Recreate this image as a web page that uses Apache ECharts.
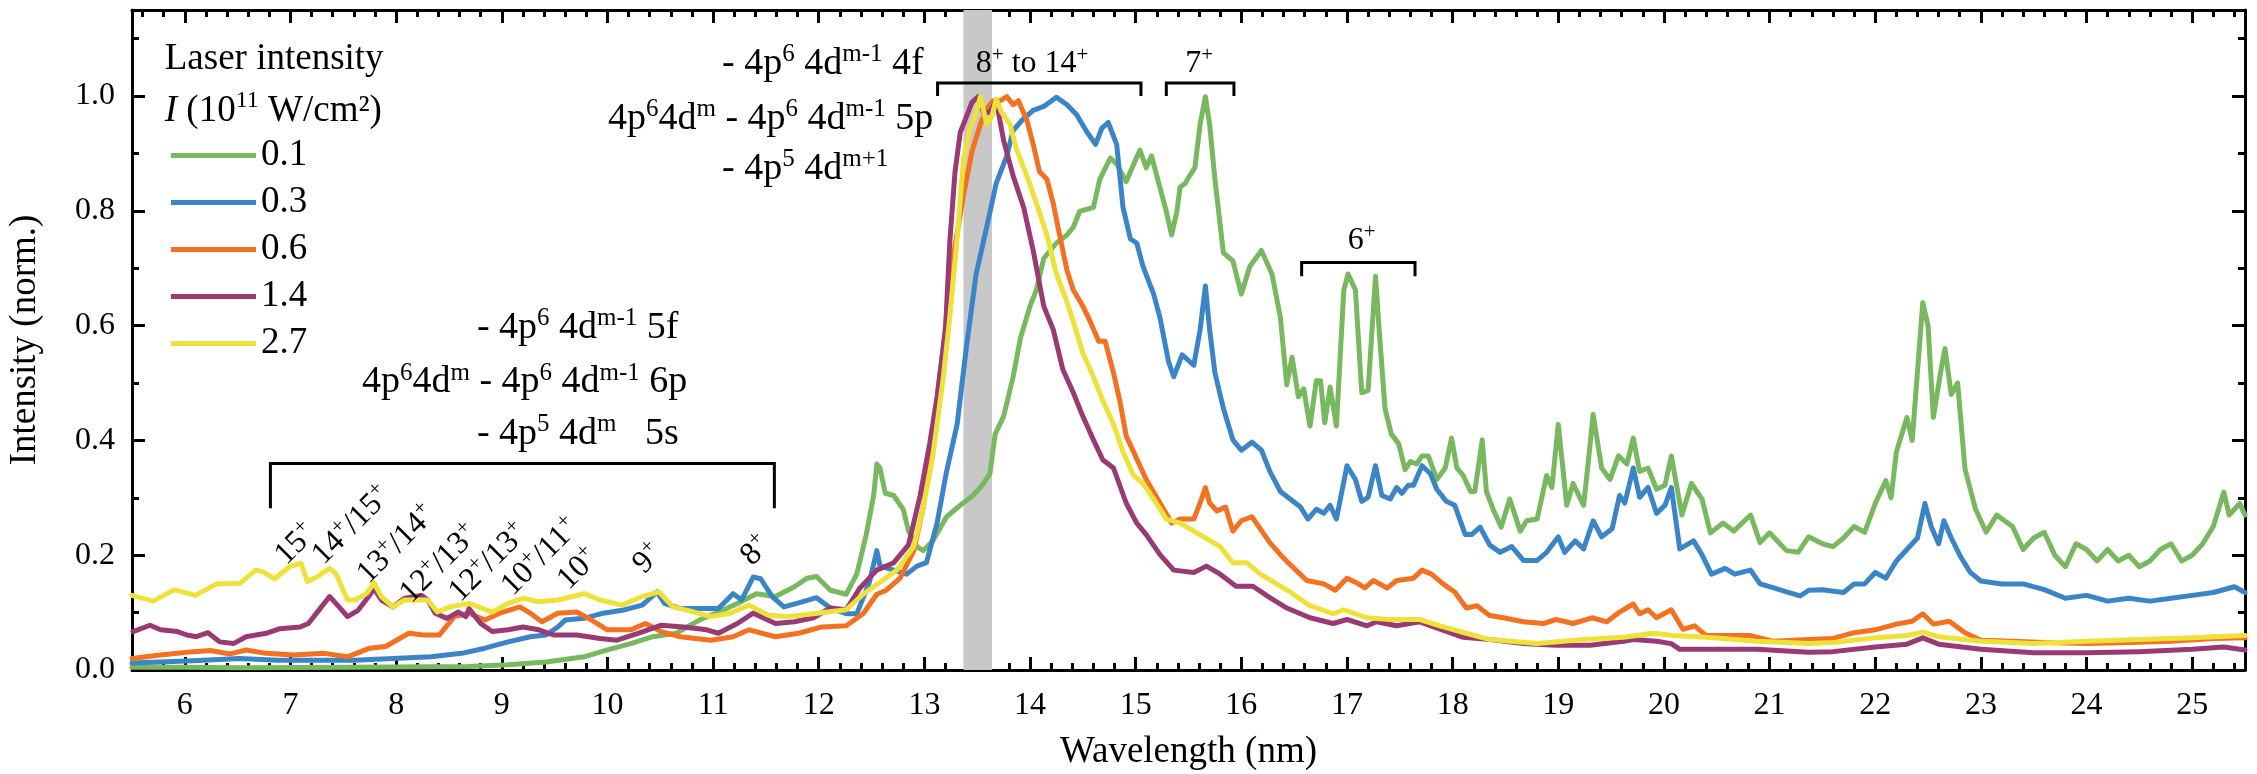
<!DOCTYPE html>
<html>
<head>
<meta charset="utf-8">
<script src="https://cdn.jsdelivr.net/npm/echarts@6/dist/echarts.min.js"></script>
<style>
html, body { margin: 0; padding: 0; background: #fff; }
#chart { width: 2257px; height: 774px; }
</style>
</head>
<body>
<div id="chart"></div>
<script>
// Normalised EUV emission spectra for five laser intensities
const FONT = "'Liberation Serif', serif";

const seriesNames = ['0.1', '0.3', '0.6', '1.4', '2.7'];
const seriesColors = ['#78b85f', '#3a84c8', '#f37121', '#9a3a74', '#eee23a'];

// [wavelength (nm), normalised intensity]
const int01 = [
  [5.5,0.005],[6.0,0.005],[6.52,0.004],[7.61,0.005],[8.69,0.006],[9.06,0.009],[9.42,0.014],[9.78,0.023],
  [10.0,0.035],[10.22,0.046],[10.43,0.058],[10.65,0.064],[10.87,0.087],[11.09,0.104],[11.23,0.116],[11.41,0.133],
  [11.59,0.128],[11.77,0.145],[11.89,0.160],[11.98,0.163],[12.11,0.139],[12.26,0.132],[12.36,0.167],[12.45,0.236],
  [12.52,0.304],[12.55,0.359],[12.58,0.352],[12.63,0.308],[12.71,0.304],[12.80,0.280],[12.85,0.242],[12.93,0.215],
  [12.99,0.208],[13.08,0.225],[13.21,0.267],[13.34,0.287],[13.46,0.304],[13.56,0.325],[13.62,0.342],[13.67,0.411],
  [13.75,0.442],[13.84,0.511],[13.91,0.579],[14.00,0.634],[14.06,0.662],[14.13,0.717],[14.25,0.744],[14.35,0.758],
  [14.41,0.772],[14.47,0.799],[14.60,0.806],[14.66,0.855],[14.76,0.892],[14.82,0.882],[14.91,0.851],[15.04,0.906],
  [15.10,0.875],[15.15,0.896],[15.20,0.861],[15.29,0.799],[15.34,0.758],[15.39,0.799],[15.42,0.841],[15.47,0.848],
  [15.51,0.861],[15.56,0.875],[15.61,0.951],[15.66,0.999],[15.70,0.951],[15.75,0.855],[15.83,0.727],[15.92,0.713],
  [16.00,0.655],[16.08,0.703],[16.19,0.731],[16.29,0.690],[16.37,0.614],[16.43,0.497],[16.48,0.545],[16.54,0.476],
  [16.59,0.490],[16.65,0.425],[16.71,0.504],[16.75,0.504],[16.79,0.431],[16.84,0.493],[16.90,0.425],[16.97,0.662],
  [17.01,0.690],[17.08,0.662],[17.14,0.483],[17.20,0.487],[17.27,0.686],[17.31,0.579],[17.36,0.456],[17.42,0.411],
  [17.49,0.394],[17.55,0.349],[17.60,0.363],[17.66,0.359],[17.71,0.373],[17.77,0.373],[17.85,0.332],[17.93,0.352],
  [17.99,0.404],[18.04,0.352],[18.10,0.339],[18.17,0.311],[18.21,0.311],[18.28,0.401],[18.32,0.311],[18.39,0.277],
  [18.46,0.249],[18.54,0.298],[18.64,0.242],[18.70,0.260],[18.80,0.263],[18.89,0.339],[18.94,0.318],[19.00,0.428],
  [19.08,0.287],[19.14,0.325],[19.24,0.287],[19.29,0.373],[19.33,0.445],[19.41,0.352],[19.49,0.332],[19.57,0.373],
  [19.65,0.359],[19.71,0.404],[19.77,0.346],[19.85,0.352],[19.93,0.315],[20.01,0.322],[20.07,0.373],[20.17,0.270],
  [20.26,0.325],[20.36,0.298],[20.44,0.239],[20.56,0.256],[20.66,0.242],[20.82,0.270],[20.91,0.222],[21.00,0.239],
  [21.16,0.208],[21.27,0.205],[21.37,0.232],[21.5,0.22],[21.6,0.215],[21.7,0.23],[21.8,0.25],[21.9,0.24],
  [22.0,0.29],[22.1,0.33],[22.15,0.30],[22.2,0.38],[22.3,0.44],[22.35,0.40],[22.45,0.64],[22.5,0.60],
  [22.55,0.44],[22.62,0.52],[22.66,0.56],[22.72,0.48],[22.78,0.50],[22.85,0.35],[22.95,0.28],[23.05,0.24],
  [23.15,0.27],[23.3,0.25],[23.4,0.21],[23.5,0.23],[23.6,0.24],[23.7,0.20],[23.8,0.18],[23.9,0.22],
  [24.0,0.21],[24.1,0.19],[24.2,0.21],[24.3,0.19],[24.4,0.20],[24.5,0.18],[24.6,0.19],[24.7,0.21],
  [24.8,0.22],[24.9,0.19],[25.0,0.20],[25.1,0.22],[25.2,0.25],[25.3,0.31],[25.35,0.27],[25.45,0.29],[25.5,0.27]
];

const int03 = [
  [5.5,0.012],[6.08,0.016],[6.52,0.020],[6.88,0.017],[7.25,0.017],[7.61,0.017],[7.97,0.020],[8.33,0.023],
  [8.62,0.029],[8.84,0.038],[9.06,0.049],[9.27,0.058],[9.42,0.061],[9.53,0.075],[9.60,0.087],[9.78,0.090],
  [9.96,0.099],[10.14,0.104],[10.33,0.113],[10.47,0.136],[10.54,0.116],[10.69,0.107],[11.05,0.107],[11.19,0.133],
  [11.27,0.122],[11.38,0.162],[11.45,0.159],[11.56,0.128],[11.67,0.110],[11.81,0.117],[11.98,0.126],[12.11,0.108],
  [12.26,0.098],[12.36,0.098],[12.48,0.153],[12.55,0.208],[12.58,0.181],[12.71,0.174],[12.83,0.167],[12.93,0.181],
  [13.02,0.187],[13.12,0.256],[13.21,0.346],[13.31,0.428],[13.40,0.566],[13.49,0.690],[13.59,0.772],[13.68,0.848],
  [13.78,0.896],[13.84,0.940],[13.94,0.961],[14.03,0.975],[14.13,0.982],[14.25,0.998],[14.35,0.985],[14.44,0.968],
  [14.54,0.937],[14.62,0.916],[14.68,0.944],[14.74,0.954],[14.82,0.916],[14.88,0.806],[14.95,0.751],[15.01,0.744],
  [15.07,0.703],[15.17,0.655],[15.23,0.614],[15.31,0.538],[15.36,0.511],[15.44,0.549],[15.55,0.531],[15.61,0.593],
  [15.66,0.669],[15.70,0.593],[15.75,0.518],[15.83,0.456],[15.92,0.401],[16.00,0.383],[16.10,0.397],[16.19,0.383],
  [16.27,0.346],[16.37,0.311],[16.44,0.301],[16.56,0.284],[16.63,0.263],[16.71,0.280],[16.78,0.273],[16.84,0.287],
  [16.90,0.263],[17.00,0.356],[17.08,0.332],[17.14,0.294],[17.20,0.301],[17.27,0.356],[17.33,0.304],[17.41,0.298],
  [17.47,0.318],[17.52,0.308],[17.58,0.322],[17.63,0.322],[17.71,0.356],[17.79,0.342],[17.85,0.315],[17.94,0.294],
  [18.02,0.287],[18.12,0.236],[18.18,0.236],[18.26,0.249],[18.35,0.218],[18.45,0.205],[18.56,0.215],[18.67,0.191],
  [18.80,0.191],[18.89,0.205],[19.00,0.232],[19.06,0.205],[19.16,0.225],[19.24,0.211],[19.33,0.260],[19.41,0.232],
  [19.51,0.246],[19.58,0.304],[19.63,0.291],[19.71,0.352],[19.77,0.301],[19.85,0.318],[19.93,0.273],[20.01,0.287],
  [20.07,0.318],[20.15,0.211],[20.28,0.225],[20.36,0.201],[20.45,0.167],[20.58,0.177],[20.67,0.167],[20.82,0.174],
  [20.91,0.150],[21.04,0.143],[21.16,0.136],[21.29,0.129],[21.37,0.139],[21.5,0.14],[21.7,0.135],[21.8,0.15],
  [21.9,0.15],[22.0,0.17],[22.1,0.16],[22.2,0.19],[22.3,0.21],[22.4,0.23],[22.47,0.29],[22.53,0.25],
  [22.6,0.22],[22.65,0.26],[22.72,0.23],[22.8,0.20],[22.9,0.17],[23.0,0.155],[23.2,0.15],[23.4,0.15],
  [23.6,0.14],[23.8,0.125],[24.0,0.13],[24.2,0.12],[24.4,0.125],[24.6,0.12],[24.8,0.125],[25.0,0.13],
  [25.2,0.135],[25.4,0.145],[25.5,0.135]
];

const int06 = [
  [5.5,0.020],[5.77,0.026],[6.08,0.032],[6.24,0.034],[6.43,0.028],[6.58,0.035],[6.77,0.029],[7.03,0.026],
  [7.32,0.029],[7.54,0.023],[7.75,0.038],[7.90,0.041],[8.12,0.064],[8.26,0.061],[8.41,0.061],[8.55,0.093],
  [8.62,0.096],[8.69,0.099],[8.84,0.087],[8.98,0.099],[9.17,0.110],[9.27,0.099],[9.38,0.084],[9.53,0.099],
  [9.71,0.101],[9.85,0.087],[10.00,0.070],[10.22,0.070],[10.36,0.081],[10.51,0.067],[10.69,0.058],[10.98,0.052],
  [11.19,0.058],[11.34,0.070],[11.59,0.058],[11.81,0.064],[12.03,0.075],[12.26,0.077],[12.42,0.098],[12.55,0.132],
  [12.64,0.139],[12.77,0.160],[12.90,0.208],[12.99,0.284],[13.08,0.408],[13.18,0.566],[13.27,0.717],[13.37,0.827],
  [13.45,0.903],[13.53,0.951],[13.59,0.978],[13.65,0.992],[13.72,0.992],[13.78,0.999],[13.84,0.985],[13.89,0.992],
  [13.97,0.958],[14.03,0.916],[14.09,0.868],[14.16,0.855],[14.22,0.813],[14.28,0.758],[14.35,0.696],[14.41,0.662],
  [14.50,0.634],[14.57,0.607],[14.65,0.573],[14.71,0.573],[14.79,0.518],[14.85,0.469],[14.91,0.408],[14.98,0.380],
  [15.10,0.332],[15.23,0.291],[15.34,0.256],[15.42,0.263],[15.55,0.263],[15.61,0.291],[15.66,0.318],[15.70,0.291],
  [15.77,0.277],[15.85,0.284],[15.92,0.242],[16.00,0.260],[16.10,0.267],[16.18,0.246],[16.27,0.222],[16.37,0.201],
  [16.46,0.184],[16.62,0.156],[16.78,0.150],[16.89,0.139],[17.00,0.160],[17.08,0.153],[17.17,0.143],[17.25,0.156],
  [17.38,0.143],[17.47,0.156],[17.63,0.160],[17.71,0.174],[17.80,0.167],[17.91,0.150],[18.02,0.136],[18.13,0.108],
  [18.23,0.112],[18.35,0.095],[18.48,0.091],[18.67,0.084],[18.86,0.081],[18.98,0.088],[19.14,0.081],[19.32,0.091],
  [19.46,0.084],[19.58,0.101],[19.71,0.115],[19.77,0.098],[19.85,0.105],[19.93,0.091],[20.07,0.105],[20.18,0.071],
  [20.29,0.077],[20.40,0.060],[20.56,0.060],[20.82,0.060],[21.04,0.050],[21.37,0.053],[21.6,0.055],[21.8,0.065],
  [22.0,0.070],[22.2,0.080],[22.35,0.085],[22.45,0.098],[22.55,0.080],[22.7,0.085],[22.85,0.065],[23.0,0.052],
  [23.3,0.050],[23.6,0.048],[24.0,0.046],[24.4,0.048],[24.8,0.050],[25.2,0.055],[25.5,0.056]
];

const int14 = [
  [5.51,0.067],[5.67,0.078],[5.77,0.070],[5.93,0.067],[6.02,0.061],[6.11,0.058],[6.22,0.065],[6.33,0.049],
  [6.46,0.046],[6.58,0.058],[6.77,0.064],[6.90,0.072],[7.09,0.075],[7.17,0.081],[7.28,0.107],[7.37,0.128],
  [7.46,0.110],[7.54,0.093],[7.64,0.104],[7.74,0.128],[7.79,0.142],[7.86,0.122],[7.97,0.110],[8.08,0.125],
  [8.24,0.130],[8.30,0.122],[8.37,0.099],[8.48,0.090],[8.59,0.101],[8.66,0.093],[8.69,0.107],[8.80,0.081],
  [8.91,0.067],[9.06,0.070],[9.20,0.075],[9.35,0.070],[9.49,0.061],[9.71,0.061],[9.93,0.055],[10.09,0.052],
  [10.29,0.064],[10.51,0.078],[10.72,0.075],[10.94,0.070],[11.05,0.064],[11.23,0.081],[11.38,0.099],[11.59,0.081],
  [11.77,0.084],[11.95,0.091],[12.11,0.108],[12.26,0.105],[12.39,0.143],[12.55,0.174],[12.71,0.187],[12.85,0.218],
  [12.96,0.304],[13.05,0.394],[13.12,0.476],[13.20,0.593],[13.24,0.744],[13.29,0.868],[13.34,0.937],[13.40,0.965],
  [13.45,0.989],[13.51,0.999],[13.56,0.972],[13.62,0.972],[13.68,0.992],[13.75,0.923],[13.84,0.861],[13.94,0.806],
  [14.03,0.731],[14.13,0.634],[14.22,0.593],[14.31,0.524],[14.41,0.483],[14.50,0.442],[14.60,0.401],[14.69,0.366],
  [14.79,0.352],[14.91,0.291],[15.01,0.256],[15.10,0.236],[15.23,0.201],[15.36,0.174],[15.55,0.170],[15.67,0.181],
  [15.80,0.167],[15.95,0.146],[16.11,0.146],[16.27,0.126],[16.43,0.108],[16.65,0.091],[16.87,0.081],[17.00,0.088],
  [17.19,0.077],[17.28,0.084],[17.47,0.077],[17.69,0.084],[17.88,0.071],[18.10,0.057],[18.35,0.053],[18.67,0.046],
  [18.98,0.043],[19.30,0.043],[19.62,0.050],[19.71,0.053],[19.93,0.050],[20.07,0.046],[20.15,0.036],[20.40,0.036],
  [20.88,0.036],[21.37,0.031],[21.6,0.032],[22.0,0.040],[22.3,0.045],[22.45,0.056],[22.6,0.045],[23.0,0.036],
  [23.5,0.030],[24.0,0.030],[24.5,0.032],[25.0,0.036],[25.3,0.040],[25.5,0.035]
];

const int27 = [
  [5.5,0.13],[5.7,0.12],[5.9,0.14],[6.1,0.13],[6.3,0.15],[6.52,0.151],[6.67,0.174],[6.74,0.171],
  [6.85,0.159],[6.99,0.180],[7.10,0.186],[7.16,0.154],[7.25,0.162],[7.37,0.177],[7.43,0.168],[7.54,0.122],
  [7.61,0.122],[7.72,0.133],[7.79,0.152],[7.86,0.128],[7.97,0.110],[8.08,0.122],[8.30,0.122],[8.39,0.101],
  [8.51,0.110],[8.69,0.116],[8.91,0.101],[9.06,0.116],[9.20,0.125],[9.35,0.119],[9.53,0.122],[9.67,0.128],
  [9.78,0.133],[9.93,0.122],[10.14,0.113],[10.33,0.128],[10.49,0.136],[10.62,0.110],[10.76,0.104],[10.98,0.093],
  [11.16,0.099],[11.34,0.113],[11.52,0.096],[11.70,0.093],[11.95,0.098],[12.26,0.105],[12.42,0.132],[12.58,0.153],
  [12.74,0.174],[12.90,0.215],[12.99,0.284],[13.08,0.373],[13.18,0.511],[13.24,0.614],[13.31,0.751],[13.37,0.889],
  [13.43,0.944],[13.48,0.965],[13.53,0.999],[13.59,0.951],[13.64,0.965],[13.68,0.995],[13.73,0.972],[13.81,0.951],
  [13.87,0.909],[13.97,0.861],[14.06,0.813],[14.16,0.758],[14.25,0.690],[14.35,0.641],[14.41,0.607],[14.50,0.552],
  [14.60,0.511],[14.69,0.469],[14.79,0.428],[14.88,0.380],[14.98,0.339],[15.07,0.325],[15.17,0.298],[15.29,0.263],
  [15.42,0.256],[15.55,0.242],[15.67,0.229],[15.80,0.215],[15.92,0.187],[16.05,0.187],[16.18,0.167],[16.37,0.146],
  [16.46,0.136],[16.65,0.112],[16.87,0.098],[16.97,0.105],[17.19,0.091],[17.41,0.088],[17.69,0.088],[17.88,0.077],
  [18.13,0.064],[18.35,0.053],[18.80,0.046],[19.24,0.053],[19.62,0.057],[19.90,0.064],[20.09,0.060],[20.40,0.057],
  [20.88,0.050],[21.37,0.046],[21.6,0.048],[22.0,0.056],[22.3,0.060],[22.45,0.066],[22.6,0.058],[23.0,0.050],
  [23.5,0.046],[24.0,0.050],[24.5,0.053],[25.0,0.056],[25.5,0.060]
];

const seriesData = [int01, int03, int06, int14, int27];

// Axis ticks and labels
const xMajorTicks = [6,7,8,9,10,11,12,13,14,15,16,17,18,19,20,21,22,23,24,25];
const yMajorTicks = [0, 0.2, 0.4, 0.6, 0.8, 1.0];
const yMinorTicks = [0.1, 0.3, 0.5, 0.7, 0.9, 1.1];
const xMinorTicks = [];
for (let i = 28; i <= 127; i++) {
  if (i % 5 !== 0) xMinorTicks.push(+(i * 0.2).toFixed(1));
}

// Highlighted band around 13.5 nm
const bandRange = [13.37, 13.64];

const chart = echarts.init(document.getElementById('chart'), null, { renderer: 'canvas' });

const AXIS_COLOR = '#000';

function xAxisDef(position, ticks, len, withLine, withLabel) {
  return {
    type: 'value', min: 5.5, max: 25.5, position: position,
    axisLine: { show: withLine, onZero: false, lineStyle: { color: AXIS_COLOR, width: 3 } },
    axisTick: { show: true, inside: true, length: len, customValues: ticks, lineStyle: { color: AXIS_COLOR, width: 3 } },
    axisLabel: withLabel ? {
      show: true, customValues: ticks, margin: 20,
      fontFamily: FONT, fontSize: 32, color: '#000'
    } : { show: false },
    splitLine: { show: false },
    name: withLabel ? 'Wavelength (nm)' : '',
    nameLocation: 'middle', nameGap: 64,
    nameTextStyle: { fontFamily: FONT, fontSize: 37, color: '#000' }
  };
}

function yAxisDef(position, ticks, len, withLine, withLabel) {
  return {
    type: 'value', min: 0, max: 1.15, position: position,
    axisLine: { show: withLine, onZero: false, lineStyle: { color: AXIS_COLOR, width: 3 } },
    axisTick: { show: true, inside: true, length: len, customValues: ticks, lineStyle: { color: AXIS_COLOR, width: 3 } },
    axisLabel: withLabel ? {
      show: true, customValues: ticks, margin: 17,
      fontFamily: FONT, fontSize: 32, color: '#000',
      formatter: v => v.toFixed(1)
    } : { show: false },
    splitLine: { show: false },
    name: withLabel ? 'Intensity (norm.)' : '',
    nameLocation: 'middle', nameGap: 88,
    nameTextStyle: { fontFamily: FONT, fontSize: 37, color: '#000' }
  };
}

const lineSeries = seriesNames.map((name, i) => ({
  name: name,
  type: 'line',
  data: seriesData[i],
  showSymbol: false,
  symbol: 'none',
  smooth: false,
  z: 3 + i,
  lineStyle: { color: seriesColors[i], width: 5, join: 'round', cap: 'round' },
  itemStyle: { color: seriesColors[i] },
  emphasis: { disabled: true }
}));

const bandSeries = {
  type: 'line', data: [], z: 1, silent: true,
  markArea: {
    silent: true,
    itemStyle: { color: '#c8c8c8' },
    data: [[{ xAxis: bandRange[0] }, { xAxis: bandRange[1] }]]
  }
};

chart.setOption({
  animation: false,
  backgroundColor: '#fff',
  textStyle: { fontFamily: FONT },
  grid: { left: 132, right: 12, top: 10, bottom: 104, containLabel: false, outerBoundsMode: 'none' },
  xAxis: [
    xAxisDef('bottom', xMajorTicks, 13, true, true),
    xAxisDef('bottom', xMinorTicks, 7, false, false),
    xAxisDef('top', xMajorTicks, 13, true, false),
    xAxisDef('top', xMinorTicks, 7, false, false)
  ],
  yAxis: [
    yAxisDef('left', yMajorTicks, 13, true, true),
    yAxisDef('left', yMinorTicks, 7, false, false),
    yAxisDef('right', yMajorTicks, 13, true, false),
    yAxisDef('right', yMinorTicks, 7, false, false)
  ],
  legend: {
    data: seriesNames,
    orient: 'vertical',
    left: 166, top: 127,
    itemWidth: 85, itemHeight: 5, itemGap: 0,
    icon: 'rect',
    selectedMode: false,
    textStyle: { fontFamily: FONT, fontSize: 37, color: '#000', lineHeight: 47 }
  },
  series: [bandSeries].concat(lineSeries)
});

// Annotations, positioned in data units (wavelength, intensity)
const RICH = {
  n: { fontFamily: FONT, fontSize: 38, lineHeight: 44, fill: '#000' },
  s: { fontFamily: FONT, fontSize: 25, lineHeight: 24, verticalAlign: 'top', fill: '#000' },
  m: { fontFamily: FONT, fontSize: 32, lineHeight: 38, fill: '#000' },
  t: { fontFamily: FONT, fontSize: 21, lineHeight: 22, verticalAlign: 'top', fill: '#000' },
  it: { fontFamily: FONT, fontSize: 37, fontStyle: 'italic', lineHeight: 44, fill: '#000' },
  l: { fontFamily: FONT, fontSize: 37, lineHeight: 44, fill: '#000' },
  ls: { fontFamily: FONT, fontSize: 24, lineHeight: 24, verticalAlign: 'top', fill: '#000' }
};

const transitionLines = [
  { at: [11.085, 1.056], text: '{n|- 4p}{s|6}{n| 4d}{s|m-1}{n| 4f}' },
  { at: [10.005, 0.960], text: '{n|4p}{s|6}{n|4d}{s|m}{n| - 4p}{s|6}{n| 4d}{s|m-1}{n| 5p}' },
  { at: [11.085, 0.873], text: '{n|- 4p}{s|5}{n| 4d}{s|m+1}' },
  { at: [8.765, 0.5965], text: '{n|- 4p}{s|6}{n| 4d}{s|m-1}{n| 5f}' },
  { at: [7.677, 0.501], text: '{n|4p}{s|6}{n|4d}{s|m}{n| - 4p}{s|6}{n| 4d}{s|m-1}{n| 6p}' },
  { at: [8.765, 0.412], text: '{n|- 4p}{s|5}{n| 4d}{s|m}{n|   5s}' }
];

const legendTitle = [
  { at: [5.81, 1.0643], text: '{l|Laser intensity}' },
  { at: [5.81, 0.9739], text: '{it|I}{l| (10}{ls|11}{l| W/cm²)}' }
];

// Charge-state brackets: [from, to, bar level, leg end]
const brackets = [
  { range: [13.125, 15.05], y: [1.023, 1.0], label: '{m|8}{t|+}{m| to 14}{t|+}', labelAt: [14.02, 1.056] },
  { range: [15.29, 15.93], y: [1.023, 1.0], label: '{m|7}{t|+}', labelAt: [15.6, 1.056] },
  { range: [16.571, 17.644], y: [0.710, 0.686], label: '{m|6}{t|+}', labelAt: [17.14, 0.748] },
  { range: [6.81, 11.58], y: [0.360, 0.282], label: null }
];

// Rotated ion labels under the lower bracket
const ionLabels = [
  { at: [7.05, 0.219], text: '{m|15}{t|+}' },
  { at: [7.58, 0.252], text: '{m|14}{t|+}{m|/15}{t|+}' },
  { at: [8.005, 0.219], text: '{m|13}{t|+}{m|/14}{t|+}' },
  { at: [8.41, 0.185], text: '{m|12}{t|+}{m|/13}{t|+}' },
  { at: [8.875, 0.187], text: '{m|12}{t|+}{m|/13}{t|+}' },
  { at: [9.367, 0.197], text: '{m|10}{t|+}{m|/11}{t|+}' },
  { at: [9.725, 0.176], text: '{m|10}{t|+}' },
  { at: [10.385, 0.194], text: '{m|9}{t|+}' },
  { at: [11.405, 0.208], text: '{m|8}{t|+}' }
];

function px(pt) {
  return chart.convertToPixel({ xAxisIndex: 0, yAxisIndex: 0 }, pt);
}

function textEl(at, text, align, rotation) {
  const p = px(at);
  return {
    type: 'text', x: p[0], y: p[1], rotation: rotation || 0, silent: true, z: 20,
    style: {
      text: text, rich: RICH, fill: '#000',
      align: align, verticalAlign: 'middle',
      textAlign: align, textVerticalAlign: 'middle'
    }
  };
}

const graphics = [];
transitionLines.forEach(t => graphics.push(textEl(t.at, t.text, 'left')));
legendTitle.forEach(t => graphics.push(textEl(t.at, t.text, 'left')));
brackets.forEach(b => {
  const a = px([b.range[0], b.y[1]]);
  const c = px([b.range[0], b.y[0]]);
  const d = px([b.range[1], b.y[0]]);
  const e = px([b.range[1], b.y[1]]);
  graphics.push({
    type: 'polyline', silent: true, z: 20,
    shape: { points: [a, c, d, e] },
    style: { stroke: '#000', lineWidth: 3, fill: null }
  });
  if (b.label) graphics.push(textEl(b.labelAt, b.label, 'center'));
});
ionLabels.forEach(t => graphics.push(textEl(t.at, t.text, 'center', Math.PI / 4)));

chart.setOption({ graphic: { elements: graphics } });
</script>
</body>
</html>
